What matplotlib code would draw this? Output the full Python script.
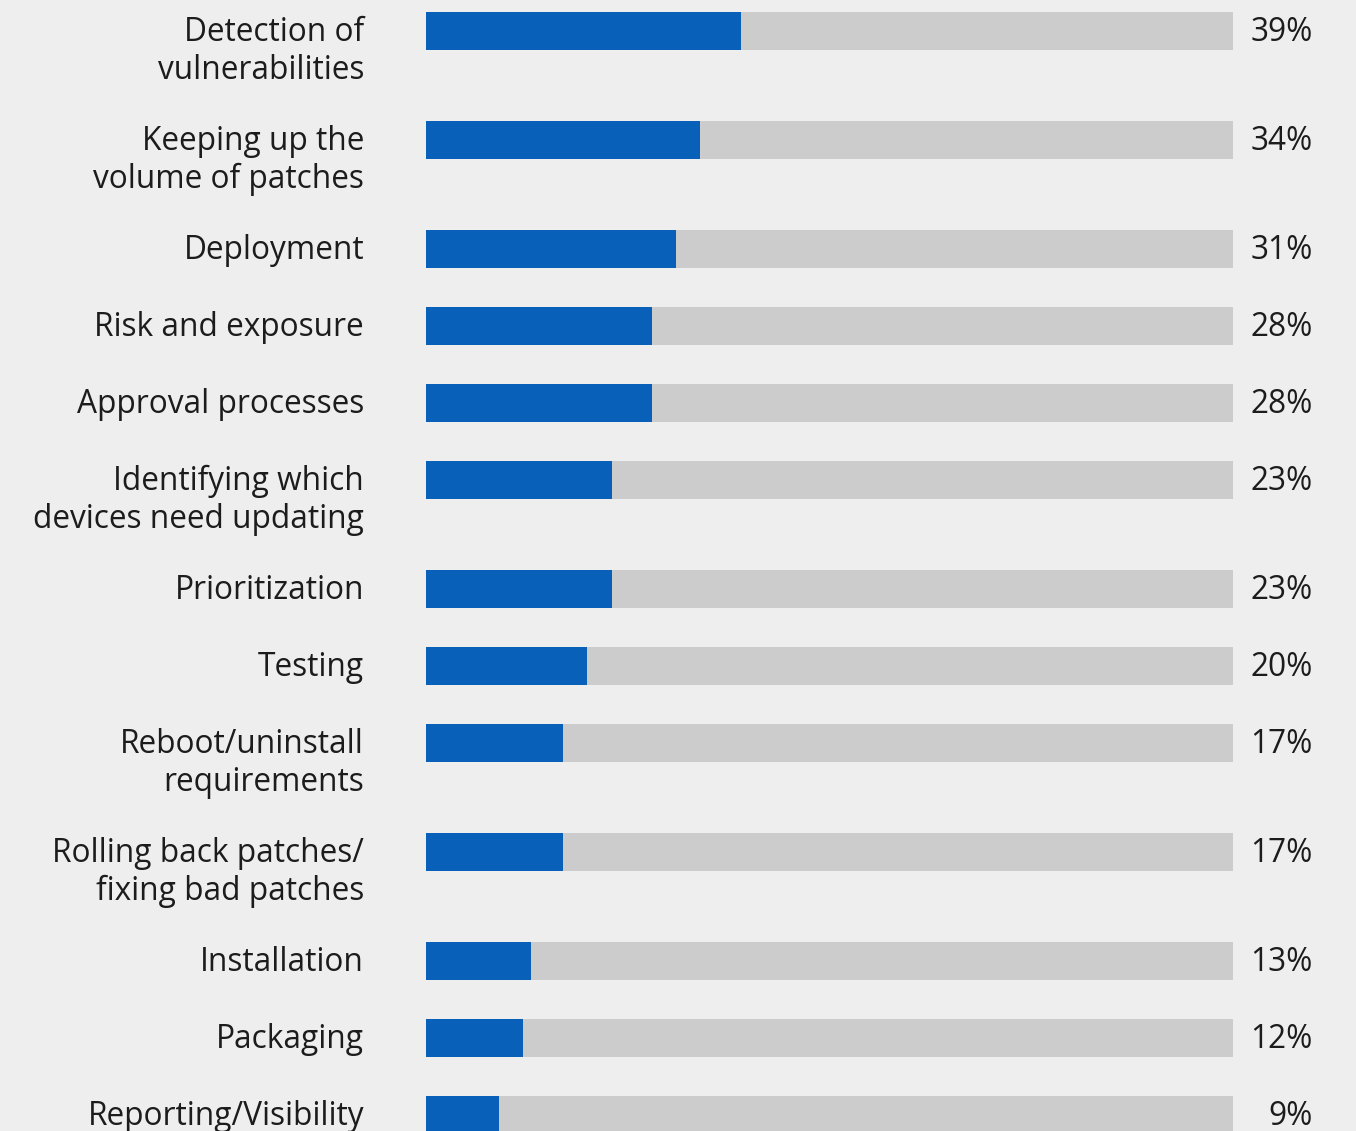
import matplotlib.pyplot as plt

# Patch management challenges (% of respondents)
labels = [
    "Detection of\nvulnerabilities",
    "Keeping up the\nvolume of patches",
    "Deployment",
    "Risk and exposure",
    "Approval processes",
    "Identifying which\ndevices need updating",
    "Prioritization",
    "Testing",
    "Reboot/uninstall\nrequirements",
    "Rolling back patches/\nfixing bad patches",
    "Installation",
    "Packaging",
    "Reporting/Visibility",
]
values = [39, 34, 31, 28, 28, 23, 23, 20, 17, 17, 13, 12, 9]

BG = "#eeeeee"
BLUE = "#0860b8"
TRACK = "#cccccc"
TEXT = "#1c1c1c"

plt.rcParams["font.family"] = ["Open Sans", "DejaVu Sans"]

W, H = 1356, 1131
fig = plt.figure(figsize=(W / 100, H / 100), dpi=100, facecolor=BG)
# axes span only the bar track; y runs in pixel units top-down
ax = fig.add_axes([426 / W, 0, 807 / W, 1])
ax.set_facecolor(BG)
ax.set_xlim(0, 100)
ax.set_ylim(H, 0)
ax.axis("off")

# row centres: extra room after each two-line label
centres = []
y = 31
for lab in labels:
    centres.append(y)
    y += 77 + 32 * (lab.count("\n"))

bar_h = 38
line_h = 38
ax.barh(centres, [100] * len(values), height=bar_h, color=TRACK, left=0)
ax.barh(centres, values, height=bar_h, color=BLUE, left=0)

tr = ax.get_yaxis_transform()
for yc, lab, v in zip(centres, labels, values):
    for i, line in enumerate(lab.split("\n")):
        ax.text(-0.0768, yc + 10 + i * line_h, line, transform=tr,
                ha="right", va="baseline", fontsize=22.8, color=TEXT)
    ax.text(1.099, yc + 10, f"{v}%", transform=tr,
            ha="right", va="baseline", fontsize=22.8, color=TEXT)

fig.savefig("out.png", dpi=100, facecolor=BG)
